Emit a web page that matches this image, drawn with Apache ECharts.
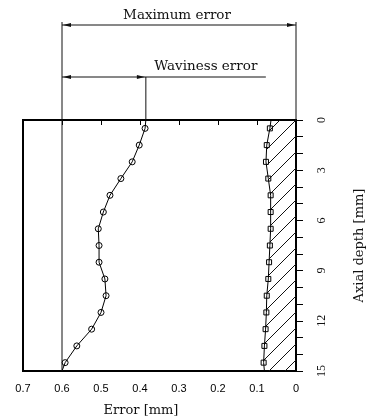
<!DOCTYPE html>
<html>
<head>
<meta charset="utf-8">
<script src="https://cdn.jsdelivr.net/npm/echarts@6/dist/echarts.min.js"></script>
<style>
  html, body { margin: 0; padding: 0; background: #fff; }
  #chart { width: 366px; height: 417px; }
</style>
</head>
<body>
<div id="chart"></div>
<script>
// Axial depths of the measured points [mm]
const depths = [0.5, 1.5, 2.5, 3.5, 4.5, 5.5, 6.5, 7.5, 8.5, 9.5, 10.5, 11.5, 12.5, 13.5, 14.5];
// Maximum error profile (circles) [mm]
const maxErrorValues = [0.387, 0.402, 0.420, 0.449, 0.477, 0.494, 0.507, 0.505, 0.505, 0.490, 0.487, 0.500, 0.524, 0.562, 0.592];
// Profile values at the entry (0 mm) and the bottom (15 mm)
const maxErrorEnds = [0.385, 0.600];
// Waviness profile (squares) [mm]
const waveErrorValues = [0.067, 0.075, 0.077, 0.071, 0.065, 0.065, 0.065, 0.067, 0.069, 0.071, 0.075, 0.076, 0.078, 0.081, 0.083];
const waveErrorEnds = [0.064, 0.081];
// Axis ranges and labelled depth ticks
const depthRange = [0, 15];
const depthLabels = [0, 3, 6, 9, 12, 15];
const errorRange = [0, 0.7];
const maximumError = 0.6;

const INK = '#111';

// Diagonal hatch tile for the region under the waviness profile
const hatchTile = (function () {
  const s = 16;
  const c = document.createElement('canvas');
  c.width = s; c.height = s;
  const g = c.getContext('2d');
  g.strokeStyle = INK;
  g.lineWidth = 1;
  g.beginPath();
  g.moveTo(0, s); g.lineTo(s, 0);
  g.moveTo(-2, 2); g.lineTo(2, -2);
  g.moveTo(s - 2, s + 2); g.lineTo(s + 2, s - 2);
  g.stroke();
  return c;
})();

function profile(values, ends) {
  const pts = [{ value: [ends[0], depthRange[0]], symbol: 'none' }];
  depths.forEach((d, i) => pts.push([values[i], d]));
  pts.push({ value: [ends[1], depthRange[1]], symbol: 'none' });
  return pts;
}

function renderHatch(params, api) {
  const pts = [[waveErrorEnds[0], depthRange[0]]];
  depths.forEach((d, i) => pts.push([waveErrorValues[i], d]));
  pts.push([waveErrorEnds[1], depthRange[1]], [0, depthRange[1]], [0, depthRange[0]]);
  return {
    type: 'polygon',
    shape: { points: pts.map(p => api.coord(p)) },
    style: { fill: { image: hatchTile, repeat: 'repeat' }, stroke: null }
  };
}

function renderDimensions(params, api) {
  const top = api.coord([0, depthRange[0]])[1];
  const bottom = api.coord([0, depthRange[1]])[1];
  const xMax = api.coord([maximumError, 0])[0];
  const xZero = api.coord([0, 0])[0];
  const xWave = api.coord([maxErrorEnds[0], 0])[0];
  const yExt = top - 98, yMaxLine = top - 95, yWaveLine = top - 43;
  const line = (x1, y1, x2, y2) => ({
    type: 'line', shape: { x1, y1, x2, y2 }, style: { stroke: INK, lineWidth: 1 }
  });
  const arrow = (xTip, y, dir) => ({
    type: 'polygon',
    shape: { points: [[xTip, y], [xTip + dir * 8, y - 2], [xTip + dir * 8, y + 2]] },
    style: { fill: INK }
  });
  const label = (text, x, y) => ({
    type: 'text',
    style: { text, x, y, align: 'center', verticalAlign: 'middle',
             fontFamily: 'DejaVu Serif', fontSize: 13.5, fill: INK }
  });
  return {
    type: 'group',
    children: [
      line(xMax, yExt, xMax, bottom),
      line(xZero, yExt, xZero, top),
      line(xWave, yWaveLine, xWave, top),
      line(xMax, yMaxLine, xZero, yMaxLine),
      arrow(xMax + 1, yMaxLine, 1),
      arrow(xZero - 1, yMaxLine, -1),
      label('Maximum error', (xMax + xZero) / 2 - 2, yMaxLine - 10),
      line(xMax, yWaveLine, xWave + 120, yWaveLine),
      arrow(xMax + 1, yWaveLine, 1),
      arrow(xWave - 1, yWaveLine, -1),
      label('Waviness error', xWave + 60, yWaveLine - 11)
    ]
  };
}

const chart = echarts.init(document.getElementById('chart'), null, { renderer: 'canvas' });
chart.setOption({
  animation: false,
  backgroundColor: '#fff',
  grid: {
    left: 23, right: 70, top: 120, bottom: 46,
    show: true, borderColor: '#000', borderWidth: 2,
    outerBoundsMode: 'none'
  },
  xAxis: {
    type: 'value', min: errorRange[0], max: errorRange[1], interval: 0.1, inverse: true,
    name: 'Error [mm]', nameLocation: 'middle', nameGap: 33,
    nameTextStyle: { fontFamily: 'DejaVu Serif', fontSize: 13, color: INK, padding: [0, 37, 0, 0] },
    axisLine: { lineStyle: { color: '#000', width: 2 } },
    axisTick: { length: 5, lineStyle: { color: '#000', width: 1 } },
    axisLabel: { margin: 12, fontFamily: 'Liberation Sans', fontSize: 11, color: '#000' },
    splitLine: { show: false }
  },
  yAxis: {
    type: 'value', position: 'right', min: depthRange[0], max: depthRange[1], interval: 1, inverse: true,
    name: 'Axial depth [mm]', nameLocation: 'middle', nameGap: 57, nameRotate: 90,
    nameTextStyle: { fontFamily: 'DejaVu Serif', fontSize: 13, color: INK },
    axisLine: { show: true, lineStyle: { color: '#000', width: 2 } },
    axisTick: { show: true, length: 7, lineStyle: { color: '#000', width: 1 } },
    axisLabel: {
      rotate: 90, margin: 20, fontFamily: 'Liberation Serif', fontSize: 12, color: INK,
      formatter: v => (depthLabels.indexOf(v) >= 0 ? String(v) : '')
    },
    splitLine: { show: false }
  },
  series: [
    {
      type: 'custom', name: 'hatch', coordinateSystem: 'cartesian2d',
      renderItem: renderHatch, data: [[0, 0]], silent: true, z: 1
    },
    {
      type: 'line', name: 'Maximum error', data: profile(maxErrorValues, maxErrorEnds),
      symbol: 'circle', symbolSize: 6, showSymbol: true,
      lineStyle: { color: '#000', width: 1 },
      itemStyle: { color: 'rgba(0,0,0,0)', borderColor: '#000', borderWidth: 1 },
      z: 3
    },
    {
      type: 'line', name: 'Waviness error', data: profile(waveErrorValues, waveErrorEnds),
      symbol: 'rect', symbolSize: 5, showSymbol: true,
      lineStyle: { color: '#000', width: 1 },
      itemStyle: { color: 'rgba(0,0,0,0)', borderColor: '#000', borderWidth: 1 },
      z: 3
    },
    {
      type: 'custom', name: 'dimensions', coordinateSystem: 'cartesian2d',
      renderItem: renderDimensions, data: [[0, 0]], silent: true, clip: false, z: 4
    }
  ]
});
</script>
</body>
</html>
